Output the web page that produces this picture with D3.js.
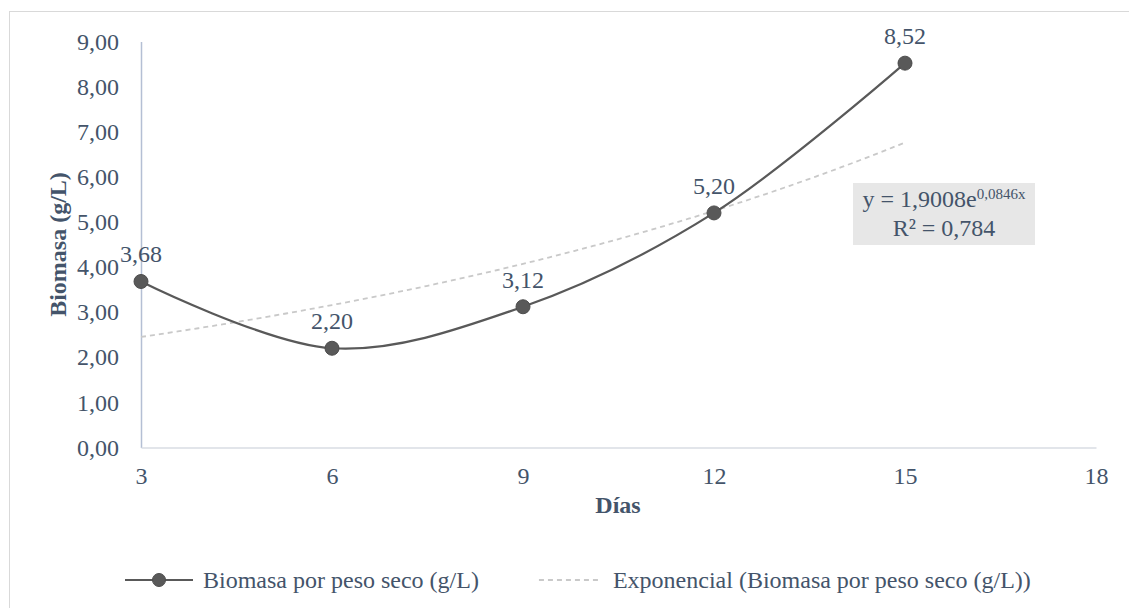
<!DOCTYPE html>
<html>
<head>
<meta charset="utf-8">
<script src="https://cdn.jsdelivr.net/npm/d3@7"></script>
<style>
  html, body { margin: 0; padding: 0; background: #fff; }
  svg { display: block; }
  text { font-family: "Liberation Serif", "Times New Roman", serif; fill: #44546a; }
</style>
</head>
<body>
<svg id="chart" width="1129" height="608"></svg>
<script>
// Dry-weight biomass measured every three days
const days = [3, 6, 9, 12, 15];
const biomass = [3.68, 2.20, 3.12, 5.20, 8.52];
const dataLabels = ["3,68", "2,20", "3,12", "5,20", "8,52"];

// Axis ticks
const xTicks = [3, 6, 9, 12, 15, 18];
const yTicks = [0, 1, 2, 3, 4, 5, 6, 7, 8, 9];

// Exponential trend fitted to the series: y = a·e^(b·x)
const trendA = 1.9008;
const trendB = 0.0846;
const trendLines = ["y = 1,9008e", "0,0846x", "R² = 0,784"];

const seriesName = "Biomasa por peso seco (g/L)";
const trendName = "Exponencial (Biomasa por peso seco (g/L))";

const FS = 24;
const svg = d3.select("#chart");
const fmt = v => d3.format(".2f")(v).replace(".", ",");

// Outer chart frame
svg.append("rect")
  .attr("x", 9.5).attr("y", 11.5)
  .attr("width", 1300).attr("height", 800)
  .attr("fill", "none").attr("stroke", "#d9d9d9");

const x = d3.scaleLinear().domain([3, 18]).range([141, 1096]);
const y = d3.scaleLinear().domain([0, 9]).range([447.5, 41.5]);

// Y axis
const yAxis = svg.append("g").attr("transform", `translate(${x(3)},0)`)
  .call(d3.axisLeft(y).tickValues(yTicks).tickFormat(fmt).tickSize(0).tickPadding(22));
yAxis.select(".domain").attr("stroke", "#b4bfd4").attr("stroke-width", 1.5);
yAxis.selectAll("text").attr("font-size", FS).attr("fill", "#44546a")
  .attr("font-family", "Liberation Serif");

// X axis
const xAxis = svg.append("g").attr("transform", `translate(0,${y(0)})`)
  .call(d3.axisBottom(x).tickValues(xTicks).tickFormat(d3.format("d")).tickSize(0).tickPadding(19));
xAxis.select(".domain").attr("stroke", "#d9dce3").attr("stroke-width", 1.5);
xAxis.selectAll("text").attr("font-size", FS).attr("fill", "#44546a")
  .attr("font-family", "Liberation Serif");

// Axis titles
svg.append("text")
  .attr("transform", `translate(58,${(y(0) + y(9)) / 2}) rotate(-90)`)
  .attr("text-anchor", "middle").attr("dominant-baseline", "central")
  .attr("font-size", FS).attr("font-weight", "bold")
  .text("Biomasa (g/L)");
svg.append("text")
  .attr("x", 618).attr("y", 505)
  .attr("text-anchor", "middle").attr("dominant-baseline", "central")
  .attr("font-size", FS).attr("font-weight", "bold")
  .text("Días");

// Exponential trend line, drawn from the fitted equation over the data range
const trendPts = d3.range(days[0], days[days.length - 1] + 0.001, 0.1)
  .map(d => [d, trendA * Math.exp(trendB * d)]);
svg.append("path")
  .datum(trendPts)
  .attr("fill", "none").attr("stroke", "#c9c9c9").attr("stroke-width", 1.8)
  .attr("stroke-dasharray", "5,4")
  .attr("d", d3.line().x(d => x(d[0])).y(d => y(d[1])));

// Smoothed series line
const pts = days.map((d, i) => [d, biomass[i]]);
svg.append("path")
  .datum(pts)
  .attr("fill", "none").attr("stroke", "#595959").attr("stroke-width", 2.2)
  .attr("d", d3.line().x(d => x(d[0])).y(d => y(d[1])).curve(d3.curveCatmullRom.alpha(0.5)));

// Markers
svg.selectAll("circle.pt").data(pts).join("circle")
  .attr("class", "pt")
  .attr("cx", d => x(d[0])).attr("cy", d => y(d[1])).attr("r", 7)
  .attr("fill", "#595959").attr("stroke", "#4d4d4d").attr("stroke-width", 1);

// Data labels
svg.selectAll("text.lbl").data(pts).join("text")
  .attr("class", "lbl")
  .attr("x", d => x(d[0])).attr("y", d => y(d[1]) - 27)
  .attr("text-anchor", "middle").attr("dominant-baseline", "central")
  .attr("font-size", FS)
  .text((d, i) => dataLabels[i]);

// Trend equation box
svg.append("rect")
  .attr("x", 853).attr("y", 183).attr("width", 182).attr("height", 62)
  .attr("fill", "#e7e7e7");
const eq = svg.append("text")
  .attr("x", 944).attr("y", 207)
  .attr("text-anchor", "middle")
  .attr("font-size", FS);
eq.append("tspan").text(trendLines[0]);
eq.append("tspan").attr("dy", -8).attr("font-size", 15).text(trendLines[1]);
svg.append("text")
  .attr("x", 944).attr("y", 236)
  .attr("text-anchor", "middle")
  .attr("font-size", FS)
  .text(trendLines[2]);

// Legend
const legY = 580;
const leg = svg.append("g");
leg.append("line").attr("x1", 125).attr("x2", 193).attr("y1", legY).attr("y2", legY)
  .attr("stroke", "#595959").attr("stroke-width", 2.2);
leg.append("circle").attr("cx", 159).attr("cy", legY).attr("r", 6.5)
  .attr("fill", "#595959").attr("stroke", "#4d4d4d");
const t1 = leg.append("text").attr("x", 203).attr("y", legY)
  .attr("dominant-baseline", "central").attr("font-size", FS).text(seriesName);
const dashX = 203 + t1.node().getComputedTextLength() + 60;
leg.append("line").attr("x1", dashX).attr("x2", dashX + 62).attr("y1", legY).attr("y2", legY)
  .attr("stroke", "#c9c9c9").attr("stroke-width", 1.8).attr("stroke-dasharray", "5,4");
leg.append("text").attr("x", dashX + 74).attr("y", legY)
  .attr("dominant-baseline", "central").attr("font-size", FS).text(trendName);
</script>
</body>
</html>
